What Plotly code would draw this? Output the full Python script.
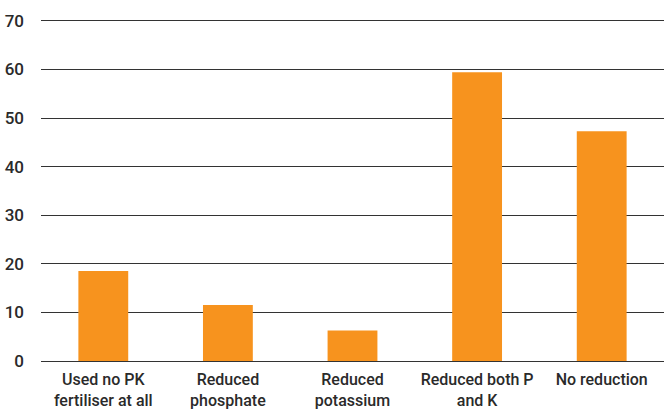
import plotly.graph_objects as go

categories = ["Used no PK<br>fertiliser at all", "Reduced<br>phosphate", "Reduced<br>potassium",
              "Reduced both P<br>and K", "No reduction"]
values = [18.5, 11.5, 6.3, 59.4, 47.3]
y_ticks = [0, 10, 20, 30, 40, 50, 60, 70]

BAR_COLOR = "#F7931E"
TEXT_COLOR = "#2a2a2a"
FONT = "Roboto, Liberation Sans, Arial, sans-serif"

fig = go.Figure(go.Bar(x=categories, y=values, marker=dict(color=BAR_COLOR, line=dict(width=0))))

fig.update_layout(
    width=664, height=409,
    margin=dict(l=41, r=0, t=16, b=48, autoexpand=False),
    plot_bgcolor="white", paper_bgcolor="white",
    bargap=0.6,
    showlegend=False,
    font=dict(family=FONT, size=16, color=TEXT_COLOR),
)
fig.update_xaxes(
    showgrid=False, showline=True, linecolor="#333333", linewidth=1.2,
    ticks="", ticklabelstandoff=4, automargin=False,
    tickfont=dict(family=FONT, size=16, color=TEXT_COLOR, weight=500),
)
fig.update_yaxes(
    range=[0, 71], tickvals=y_ticks, showgrid=True, gridcolor="#333333", gridwidth=1,
    zeroline=False, showline=False, ticks="", ticklabelstandoff=16, automargin=False,
    tickfont=dict(family=FONT, size=17, color=TEXT_COLOR, weight=500),
)

fig.write_html("out.html")
